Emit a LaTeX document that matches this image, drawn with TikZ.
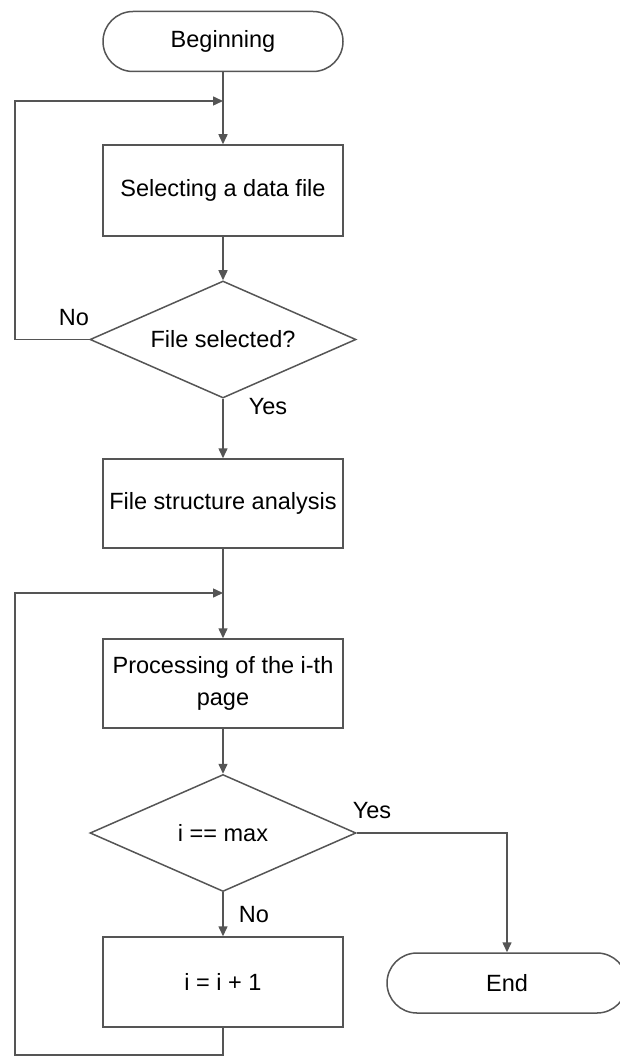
\documentclass[tikz,border=0pt]{standalone}
\usepackage{fontspec}
\setmainfont{Liberation Sans}
\usetikzlibrary{shapes.geometric,arrows.meta}
\definecolor{linegray}{RGB}{85,85,85}
\begin{document}
\begin{tikzpicture}[x=1pt,y=-1pt,
  every node/.style={font=\fontsize{23.5}{32}\selectfont, text=black},
  conn/.style={draw=linegray, line width=1.5pt},
  arr/.style={conn, -{Triangle[length=10pt,width=9pt]}},
  procbox/.style={draw=linegray, line width=1.5pt, rectangle, minimum width=240pt,
    minimum height=90pt, inner sep=0pt, align=center},
  termbox/.style={draw=linegray, line width=1.5pt, rectangle, rounded corners=30pt,
    minimum width=240pt, minimum height=60pt, inner sep=0pt},
  decision/.style={draw=linegray, line width=1.5pt, diamond, aspect=2.26,
    minimum width=266pt, minimum height=117pt, inner sep=0pt},
  lbl/.style={inner sep=0pt}]
\useasboundingbox (0,0) rectangle (619,1056);

% main column
\node[termbox]  (begin) at (223,41.5)  {Beginning};
\node[procbox, minimum height=91pt] (select) at (223,190.5) {Selecting a data file};
\node[decision] (sel)   at (223,339.5) {File selected?};
\node[procbox, minimum height=89pt] (fsa) at (223,503.5) {File structure analysis};
\node[procbox, minimum height=89pt] (proc) at (223,683.5) {Processing of the i-th\\page};
\node[decision] (max)   at (223,833)   {i == max};
\node[procbox]  (inc)   at (223,982)   {i = i + 1};
\node[termbox]  (end)   at (507,983)   {End};

% junction points on the vertical flow
\coordinate (j1) at (223,101);
\coordinate (j2) at (223,593);
\coordinate (l1) at (15,339.5);
\coordinate (l2) at (15,1055);

% forward flow
\draw[arr] (begin.south) -- (select.north);
\draw[arr] (select.south) -- (sel.north);
\draw[arr] (sel.south) -- (fsa.north);
\draw[arr] (fsa.south) -- (proc.north);
\draw[arr] (proc.south) -- (max.north);
\draw[arr] (max.south) -- (inc.north);
\draw[arr] (max.east) -| (end.north);

% loops back
\draw[arr] (sel.west) -- (l1) |- (j1);
\draw[arr] (inc.south) |- (l2) |- (j2);

% branch labels
\node[lbl] (no1)  at (74,318)  {No};
\node[lbl] (yes1) at (268,407) {Yes};
\node[lbl] (yes2) at (372,811) {Yes};
\node[lbl] (no2)  at (254,915) {No};
\end{tikzpicture}
\end{document}
